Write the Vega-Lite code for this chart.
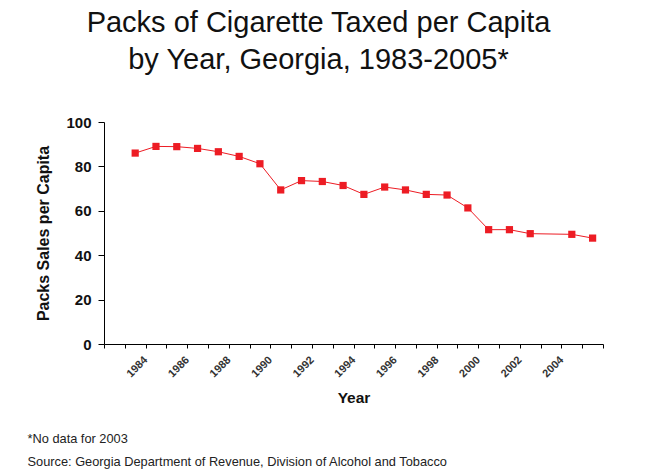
{
  "$schema": "https://vega.github.io/schema/vega-lite/v6.json",
  "width": 499,
  "height": 222,
  "autosize": {"type": "none"},
  "padding": {"left": 104, "top": 122, "right": 42, "bottom": 129},
  "background": "white",
  "config": {
    "view": {"stroke": null},
    "axis": {"grid": false, "labelFont": "Liberation Sans", "titleFont": "Liberation Sans"},
    "font": "Liberation Sans"
  },
  "title": {
    "text": ["Packs of Cigarette Taxed per Capita", "by Year, Georgia, 1983-2005*"],
    "font": "Liberation Sans",
    "fontSize": 29,
    "fontWeight": "normal",
    "color": "#111111",
    "anchor": "middle",
    "frame": "group",
    "dx": -35,
    "lineHeight": 37,
    "offset": 40
  },
  "data": {
    "values": [
      {"year": 1983, "packs": 86.0},
      {"year": 1984, "packs": 89.0},
      {"year": 1985, "packs": 88.9},
      {"year": 1986, "packs": 88.1},
      {"year": 1987, "packs": 86.6},
      {"year": 1988, "packs": 84.5},
      {"year": 1989, "packs": 81.2},
      {"year": 1990, "packs": 69.4},
      {"year": 1991, "packs": 73.6},
      {"year": 1992, "packs": 73.2},
      {"year": 1993, "packs": 71.4},
      {"year": 1994, "packs": 67.4},
      {"year": 1995, "packs": 70.7},
      {"year": 1996, "packs": 69.4},
      {"year": 1997, "packs": 67.4},
      {"year": 1998, "packs": 67.1},
      {"year": 1999, "packs": 61.3},
      {"year": 2000, "packs": 51.5},
      {"year": 2001, "packs": 51.5},
      {"year": 2002, "packs": 49.7},
      {"year": 2004, "packs": 49.4},
      {"year": 2005, "packs": 47.7}
    ]
  },
  "encoding": {
    "y": {
      "field": "packs",
      "type": "quantitative",
      "scale": {"domain": [0, 100], "nice": false},
      "axis": {
        "values": [0, 20, 40, 60, 80, 100],
        "title": "Packs Sales per Capita",
        "titleFontSize": 16,
        "titleFontWeight": "bold",
        "titleColor": "#111111",
        "titlePadding": 14,
        "labelFontSize": 15,
        "labelFontWeight": "bold",
        "labelColor": "#111111",
        "labelPadding": 7,
        "tickSize": 6,
        "tickColor": "#000000",
        "domainColor": "#000000"
      }
    }
  },
  "resolve": {"axis": {"x": "independent"}},
  "layer": [
    {
      "mark": {"type": "line", "color": "#ed1c24", "strokeWidth": 1},
      "encoding": {
        "x": {
          "field": "year",
          "type": "quantitative",
          "scale": {"domain": [1981.5, 2005.5], "nice": false, "zero": false},
          "axis": {
            "values": [1981.5, 1982.5, 1983.5, 1984.5, 1985.5, 1986.5, 1987.5, 1988.5, 1989.5, 1990.5, 1991.5, 1992.5, 1993.5, 1994.5, 1995.5, 1996.5, 1997.5, 1998.5, 1999.5, 2000.5, 2001.5, 2002.5, 2003.5, 2004.5, 2005.5],
            "labelExpr": "((datum.value + 0.5) % 2 == 0 && datum.value > 1983 && datum.value < 2004) ? '' + (datum.value + 0.5) : ''",
            "labelOverlap": false,
            "labelAngle": -45,
            "labelAlign": "right",
            "labelBaseline": "middle",
            "labelFontSize": 11,
            "labelFontWeight": "bold",
            "labelColor": "#333333",
            "labelPadding": 10,
            "tickSize": 4,
            "tickColor": "#000000",
            "domainColor": "#000000",
            "title": "Year",
            "titleFontSize": 15.5,
            "titleFontWeight": "bold",
            "titleColor": "#111111",
            "titlePadding": 12
          }
        }
      }
    },
    {
      "mark": {"type": "point", "shape": "square", "filled": true, "size": 52, "color": "#ed1c24", "opacity": 1},
      "encoding": {
        "x": {
          "field": "year",
          "type": "quantitative",
          "scale": {"domain": [1981.5, 2005.5], "nice": false, "zero": false},
          "axis": {
            "orient": "top",
            "labels": false,
            "ticks": false,
            "domain": false,
            "title": ["*No data for 2003", "Source: Georgia Department of Revenue, Division of Alcohol and Tobacco"],
            "titleFontSize": 12.8,
            "titleFontWeight": "normal",
            "titleColor": "#222222",
            "titleAlign": "left",
            "titleAnchor": "start",
            "titleBaseline": "alphabetic",
            "titleLineHeight": 23,
            "titleX": -77,
            "titleY": 320
          }
        }
      }
    }
  ]
}
